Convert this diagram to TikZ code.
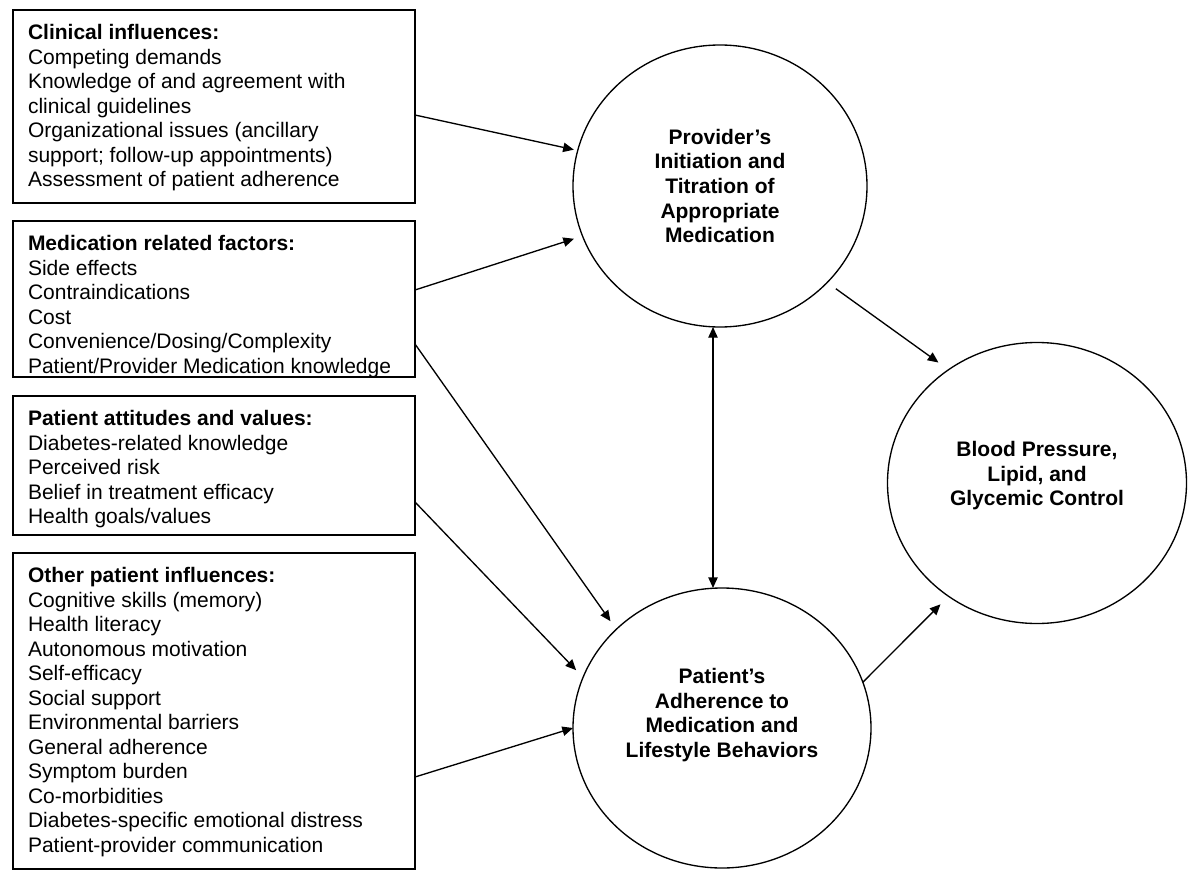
\documentclass[tikz,border=0pt]{standalone}
\usepackage{fontspec}
\setmainfont{Liberation Sans}
\usetikzlibrary{shapes.geometric,arrows.meta,calc}
\newcommand{\boxtxt}[2]{\parbox[t][#1][t]{301.5pt}{\raggedright\leftskip=11.25pt\fontsize{15.75pt}{18.4pt}\selectfont\rule{0pt}{22.1pt}#2}}
\begin{document}
\begin{tikzpicture}[x=0.75pt,y=-0.75pt,
  box/.style={draw, line width=1.3pt, rectangle, inner sep=0pt, outer sep=0pt, anchor=north west},
  circ/.style={draw, ellipse, line width=1pt, inner sep=0pt, outer sep=0pt, align=center, font=\fontsize{15.75pt}{18.4pt}\selectfont\bfseries},
  tip/.style={Triangle[length=8pt,width=7pt]},
  arr/.style={line width=1pt, -{Triangle[length=8pt,width=7pt]}}]
\fill[white] (0,0) rectangle (1200,885);
\useasboundingbox (0,0) rectangle (1200,885);

\node[box] (b1) at (13,10) {\boxtxt{144.75pt}{\textbf{Clinical influences:}\\Competing demands\\Knowledge of and agreement with\\clinical guidelines\\Organizational issues (ancillary\\support; follow-up appointments)\\Assessment of patient adherence}};
\node[box] (b2) at (13,221) {\boxtxt{117pt}{\textbf{Medication related factors:}\\Side effects\\Contraindications\\Cost\\Convenience/Dosing/Complexity\\Patient/Provider Medication knowledge}};
\node[box] (b3) at (13,396) {\boxtxt{104.25pt}{\textbf{Patient attitudes and values:}\\Diabetes-related knowledge\\Perceived risk\\Belief in treatment efficacy\\Health goals/values}};
\node[box] (b4) at (13,553) {\boxtxt{237pt}{\textbf{Other patient influences:}\\Cognitive skills (memory)\\Health literacy\\Autonomous motivation\\Self-efficacy\\Social support\\Environmental barriers\\General adherence\\Symptom burden\\Co-morbidities\\Diabetes-specific emotional distress\\Patient-provider communication}};

\node[circ, minimum width=220.5pt, minimum height=211.5pt] (P) at (720,186) {Provider’s\\Initiation and\\Titration of\\Appropriate\\Medication};
\node[circ, minimum width=223.5pt, minimum height=210pt] (Q) at (722,728) {Patient’s\\Adherence to\\Medication and\\Lifestyle Behaviors\\[4.4pt]\mbox{}};
\node[circ, minimum width=224.25pt, minimum height=210.75pt] (B) at (1037,483) {Blood Pressure,\\Lipid, and\\Glycemic Control\\[-4.6pt]\mbox{}};

\draw[arr, shorten >=3pt] (b1.east |- 0,115) -- (P.166.6);
\draw[arr, shorten >=6.75pt] (b2.east |- 0,290) -- (P.200.2);
\draw[arr, shorten >=7.5pt] (b2.east |- 0,344) -- (Q.137.4);
\draw[arr, shorten >=7.5pt] (b3.east |- 0,502) -- (Q.160.4);
\draw[arr] (b4.east |- 0,777) -- (Q.180);
\draw[arr, shorten <=8pt, shorten >=9.3pt] (P.-42.1) -- (B.128.3);
\draw[arr, shorten >=8.5pt] (Q.18.1) -- (B.-128);
\draw[line width=1pt, {Triangle[length=8pt,width=7pt]}-{Triangle[length=8pt,width=7pt]}] ([xshift=-5.25pt]P.south) -- ([xshift=-6.75pt]Q.north);
\end{tikzpicture}
\end{document}
